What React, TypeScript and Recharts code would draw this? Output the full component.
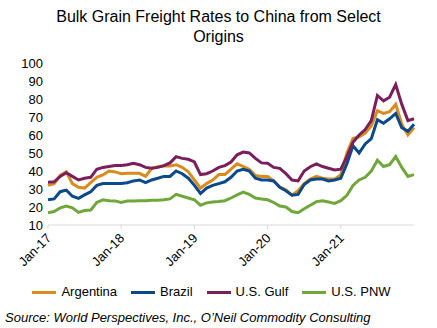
import { LineChart, Line, XAxis, YAxis } from "recharts";

const monthNames = ["Jan", "Feb", "Mar", "Apr", "May", "Jun", "Jul", "Aug", "Sep", "Oct", "Nov", "Dec"];
const years = ["17", "18", "19", "20", "21", "22"];

// monthly labels, Jan-17 .. Jan-22
const months = years.flatMap((y) => monthNames.map((m) => `${m}-${y}`)).slice(0, 61);
const yearTicks = ["Jan-17", "Jan-18", "Jan-19", "Jan-20", "Jan-21"];
const yTicks = [10, 20, 30, 40, 50, 60, 70, 80, 90, 100];

const argentina = [
  32, 33, 37.5, 39.5, 33, 31, 30.5, 33.5, 36.5, 37.8, 40, 39.5,
  38.5, 38.7, 38.7, 38.7, 37, 41.5, 42.4, 42.8, 42.8, 43.5, 42, 39.5,
  35, 30.5, 33, 35, 38, 38, 41, 44, 42.5, 41, 37.5, 37,
  37, 34.5, 31, 29.5, 26.5, 29, 33, 35.5, 37, 36, 35.5, 35.5,
  38, 50, 58, 59, 61, 65, 73.5, 72, 73, 77, 66, 60,
  64,
];
const brazil = [
  24, 24.5, 28.5, 29.4, 26, 24.8, 26.7, 28.5, 32, 33, 33, 33,
  33, 33.5, 34.5, 35, 33.5, 35, 36, 37, 37, 40, 38.5, 36,
  32, 27.5, 30.5, 32, 33, 34, 36.5, 40, 41, 40, 36, 35,
  35, 34.5, 31, 29, 26.5, 27, 32.5, 35, 35.5, 35.5, 34.5, 35,
  36, 44, 54, 50, 55, 58, 68.5, 66.5, 69, 72, 64, 62,
  66,
];
const usGulf = [
  33.7, 34, 37, 39, 37, 35, 36, 36.5, 41, 42, 42.5, 43,
  43, 43.5, 44.3, 43.5, 42, 41.5, 42, 43, 44.5, 48, 47, 46.5,
  45, 38, 38.5, 40, 42, 43, 45, 49, 50.5, 50, 47, 44.5,
  44.3, 42, 41.5, 38.5, 35, 34.5, 40, 42.4, 44, 42.5, 41.5, 40.6,
  41, 48, 56, 60, 63, 68, 82, 79, 81, 88, 77, 68,
  69,
];
const usPnw = [
  16.8, 17.5, 19.5, 20.5, 19.5, 17, 18, 18.3, 22.5, 24, 23.5, 23.4,
  22.5, 23.3, 23.4, 23.5, 23.5, 23.8, 23.8, 24, 24.5, 27, 26, 25,
  24, 21, 22.3, 22.8, 23, 23.5, 25, 26.7, 28.3, 27, 25, 24.5,
  24, 22.5, 20.5, 20, 17.5, 16.8, 19, 21, 23, 23.5, 22.8, 22,
  23.5, 26.5, 32, 35, 36.5, 40, 46, 42.5, 43.5, 48, 42, 37,
  38,
];

const data = months.map((month, i) => ({
  month,
  argentina: argentina[i],
  brazil: brazil[i],
  usGulf: usGulf[i],
  usPnw: usPnw[i],
}));

const series = [
  { key: "argentina", name: "Argentina", color: "#D98B1E" },
  { key: "brazil", name: "Brazil", color: "#0A4A8A" },
  { key: "usGulf", name: "U.S. Gulf", color: "#7A1F5C" },
  { key: "usPnw", name: "U.S. PNW", color: "#6FA73A" },
];

const font = "'Liberation Sans', Arial, sans-serif";

const XTick = ({ x, y, payload }: any) => (
  <text
    x={x + 4}
    y={y + 8}
    transform={`rotate(-45, ${x + 4}, ${y + 8})`}
    textAnchor="end"
    fontSize={13}
    fontFamily={font}
    fill="#000"
  >
    {payload.value}
  </text>
);

export default function App() {
  return (
    <div
      style={{
        position: "absolute",
        left: 0,
        top: 0,
        width: 437,
        height: 328,
        background: "#fff",
        fontFamily: font,
        color: "#000",
      }}
    >
      <div
        style={{
          position: "absolute",
          top: 7,
          left: 0,
          width: 437,
          textAlign: "center",
          fontSize: 16,
          lineHeight: "20px",
        }}
      >
        Bulk Grain Freight Rates to China from Select
        <br />
        Origins
      </div>
      <div style={{ position: "absolute", left: 0, top: 0 }}>
        <LineChart
          width={437}
          height={272}
          data={data}
          margin={{ top: 63, right: 23, bottom: 0, left: 8 }}
        >
          <XAxis
            dataKey="month"
            ticks={yearTicks}
            interval={0}
            tick={<XTick />}
            axisLine={{ stroke: "#d9d9d9" }}
            tickLine={{ stroke: "#d9d9d9" }}
            tickSize={4}
            height={47}
          />
          <YAxis
            domain={[10, 100]}
            ticks={yTicks}
            interval={0}
            axisLine={false}
            tickLine={false}
            tickSize={3}
            tickMargin={2}
            width={40}
            tick={{ fontSize: 13, fill: "#000", fontFamily: font }}
          />
          {series.map((s) => (
            <Line
              key={s.key}
              dataKey={s.key}
              name={s.name}
              type="linear"
              stroke={s.color}
              strokeWidth={3}
              dot={false}
              isAnimationActive={false}
            />
          ))}
        </LineChart>
      </div>
      <div
        style={{
          position: "absolute",
          top: 283,
          left: 0,
          width: 437,
          display: "flex",
          justifyContent: "center",
          fontSize: 13,
          lineHeight: "18px",
        }}
      >
        {series.map((s) => (
          <div key={s.key} style={{ display: "flex", alignItems: "center", marginRight: 14 }}>
            <span
              style={{
                display: "inline-block",
                width: 24,
                height: 3,
                background: s.color,
                marginRight: 5,
              }}
            />
            {s.name}
          </div>
        ))}
      </div>
      <div
        style={{
          position: "absolute",
          top: 310,
          left: 5,
          fontSize: 13,
          fontStyle: "italic",
          whiteSpace: "nowrap",
        }}
      >
        Source: World Perspectives, Inc., O’Neil Commodity Consulting
      </div>
    </div>
  );
}
